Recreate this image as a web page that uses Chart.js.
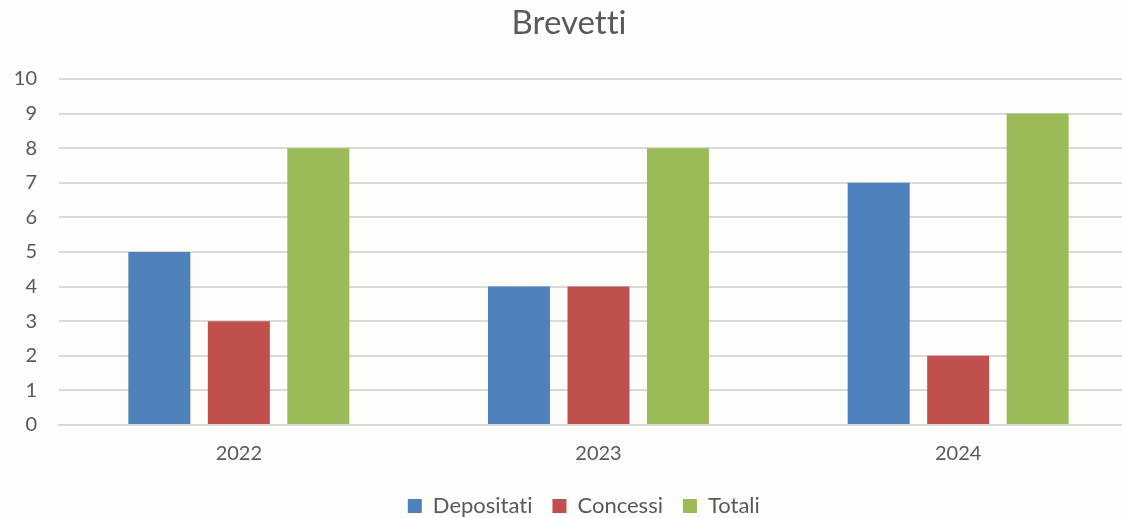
<!DOCTYPE html>
<html>
<head>
<meta charset="utf-8">
<script src="https://cdn.jsdelivr.net/npm/chart.js@4/dist/chart.umd.min.js"></script>
<style>
  html, body { margin: 0; padding: 0; background: #fdfdf9; overflow: hidden; }
  #wrap { width: 1140px; height: 527px; }
</style>
</head>
<body>
<div id="wrap"><canvas id="grafico" width="1140" height="527"></canvas></div>
<script>
// ===== Dati =====
const anni = ['2022', '2023', '2024'];
const depositati = [5, 4, 7];
const concessi = [3, 4, 2];
const totali = [8, 8, 9];
const tickMax = 10;

const testo = '#595959';
const font = "Lato, 'Open Sans', sans-serif";

// sfondo leggermente avorio, niente legature ("tti")
const sfondo = {
  id: 'sfondo',
  beforeDraw(chart) {
    const ctx = chart.ctx;
    ctx.textRendering = 'optimizeSpeed';
    ctx.save();
    ctx.fillStyle = '#fdfdf9';
    ctx.fillRect(0, 0, chart.width, chart.height);
    ctx.restore();
  }
};

// la legenda nell'originale è un po' spostata a destra
const spostaLegenda = {
  id: 'spostaLegenda',
  afterLayout(chart) {
    if (chart.legend) {
      chart.legend.left += 15;
      chart.legend.right += 15;
    }
  }
};

new Chart(document.getElementById('grafico').getContext('2d'), {
  type: 'bar',
  data: {
    labels: anni,
    datasets: [
      { label: 'Depositati', data: depositati, backgroundColor: '#4f81bd' },
      { label: 'Concessi', data: concessi, backgroundColor: '#c0504d' },
      { label: 'Totali', data: totali, backgroundColor: '#9bbb59' }
    ]
  },
  options: {
    responsive: false,
    animation: false,
    categoryPercentage: 0.663,
    barPercentage: 0.78,
    layout: { padding: { left: 0, right: 2, top: 0, bottom: 0 } },
    plugins: {
      title: {
        display: true,
        text: 'Brevetti',
        color: testo,
        font: { family: font, size: 33, weight: 'normal' },
        padding: { top: 4, bottom: 35.4 }
      },
      legend: {
        position: 'bottom',
        labels: {
          color: testo,
          font: { family: font, size: 22 },
          boxWidth: 14,
          boxHeight: 14,
          padding: 20
        }
      },
      tooltip: { enabled: false }
    },
    scales: {
      x: {
        grid: { display: false, drawTicks: false },
        border: { color: '#d9d9d9', width: 2 },
        ticks: { color: testo, font: { family: font, size: 20 }, padding: 17 },
        afterFit(scale) { scale.height = 50; }
      },
      y: {
        min: 0,
        max: tickMax,
        ticks: { stepSize: 1, color: testo, font: { family: font, size: 20 }, padding: 22 },
        grid: { color: '#d9d9d9', lineWidth: 2, drawTicks: false },
        border: { display: false },
        afterFit(scale) { scale.width = 59; }
      }
    }
  },
  plugins: [sfondo, spostaLegenda]
});
</script>
</body>
</html>
